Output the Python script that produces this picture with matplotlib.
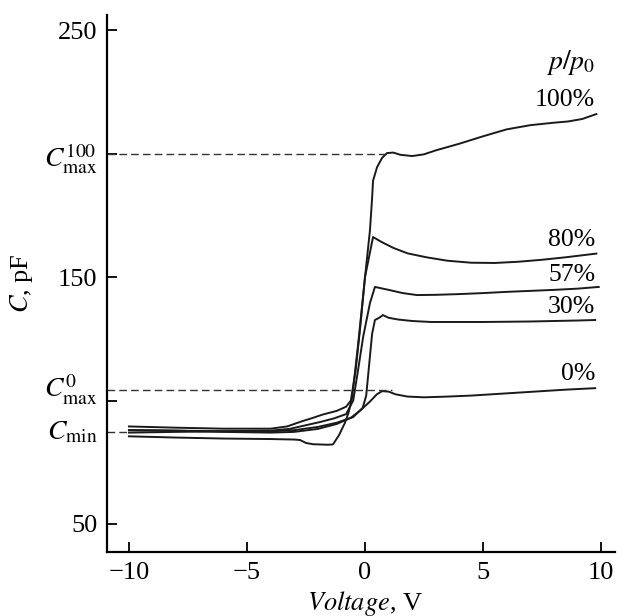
import matplotlib.pyplot as plt
import numpy as np

plt.rcParams['font.family'] = ['Liberation Serif', 'DejaVu Serif']
plt.rcParams['mathtext.fontset'] = 'stix'

# C-V curves at different relative humidity p/p0
v_100 = [-10, -8, -6, -4, -3, -2.75, -2.5, -2.2, -1.6, -1.36, -1.1, -0.85, -0.7, -0.55,
         -0.3, 0, 0.21, 0.3, 0.34, 0.51, 0.72, 0.93, 1.2, 1.5, 2.0, 2.5, 3.0, 4.0,
         5.0, 6.0, 7.0, 8.0, 8.6, 9.2, 9.8]
c_100 = [85.5, 85, 84.6, 84.4, 84.2, 84, 82.8, 82.3, 82.1, 82.2, 86, 91, 95, 101,
         122, 150, 169, 182, 189, 194.5, 198.2, 200.2, 200.4, 199.5, 199, 199.7, 201.3, 204,
         207, 209.8, 211.5, 212.5, 213, 214, 216]

v_80 = [-10, -8, -6, -4, -3.3, -2.7, -2.2, -1.8, -1.2, -0.8, -0.6, -0.4, -0.2, 0,
        0.34, 0.7, 1.2, 1.8, 2.6, 3.5, 4.5, 5.5, 6.5, 7.5, 8.5, 9.8]
c_80 = [89.5, 89, 88.6, 88.6, 89.5, 91.5, 93, 94.3, 95.8, 97.5, 100, 112, 130, 150,
        166.2, 164.2, 161.8, 159.6, 158, 156.6, 155.8, 155.7, 156.2, 157, 158, 159.5]

v_57 = [-10, -8, -6, -4, -3.2, -2.5, -1.9, -1.3, -0.8, -0.5, -0.3, -0.08, 0.21, 0.42,
        1.0, 1.6, 2.2, 3, 4, 5, 6, 7, 8, 9, 9.9]
c_57 = [88, 87.8, 87.6, 87.8, 88.5, 90, 91.3, 92.8, 94.5, 100, 112, 125.7, 139.5, 146,
        144.8, 143.5, 142.7, 142.8, 143.1, 143.5, 144, 144.4, 144.8, 145.3, 146]

v_30 = [-10, -8, -6, -4, -3, -2, -1.2, -0.5, -0.1, 0.05, 0.15, 0.3, 0.42, 0.6,
        0.76, 1.0, 1.4, 2.0, 2.8, 4, 5, 6, 7, 8, 9, 9.75]
c_30 = [87, 87.3, 87.5, 87.5, 88, 89.3, 91, 93.3, 97, 102, 112, 127, 132.6, 133.5,
        134.6, 133.5, 132.8, 132.2, 131.8, 131.8, 131.8, 131.9, 132, 132.2, 132.4, 132.6]

v_0 = [-10, -8, -6, -4, -3, -2, -1.2, -0.6, -0.2, 0.2, 0.5, 0.72, 1.0, 1.3,
       1.8, 2.5, 3.5, 4.5, 5.5, 6.5, 7.5, 8.5, 9.75]
c_0 = [88, 87.8, 87.3, 87, 87.3, 88.5, 90.5, 93, 96, 99.5, 102.5, 103.8, 103.6, 102.5,
       101.6, 101.3, 101.6, 102, 102.6, 103.2, 103.8, 104.4, 105]

curves = [(v_100, c_100), (v_80, c_80), (v_57, c_57), (v_30, c_30), (v_0, c_0)]
labels = ['100%', '80%', '57%', '30%', '0%']
label_y = [221.7, 165, 150.8, 138, 110.7]

c_max100 = 200
c_max0 = 104.3
c_min = 87.2

fig = plt.figure(figsize=(6.17, 6.16), dpi=100)
ax = fig.add_axes([0.1734, 0.1039, 0.8234, 0.8717])

for v, c in curves:
    ax.plot(v, c, color='#1a1a1a', lw=1.4, solid_joinstyle='round')

# reference levels
xl = -10.93
dash = (0, (5.5, 3))
ax.plot([xl, 1.0], [c_max100, c_max100], color='#333333', lw=1.0, ls=dash)
ax.plot([xl, 1.15], [c_max0, c_max0], color='#333333', lw=1.0, ls=dash)
ax.plot([xl, -10], [c_min, c_min], color='#333333', lw=1.0, ls=dash)

for lab, y in zip(labels, label_y):
    ax.text(9.75, y, lab, ha='right', va='center', fontsize=18.5)
ax.text(9.75, 237, r'$p/p_0$', ha='right', va='center', fontsize=20)

ax.set_xlim(xl, 10.59)
ax.set_ylim(38.66, 256.1)

ax.set_xticks([-10, -5, 0, 5, 10])
ax.set_xticklabels(['\u221210', '\u22125', '0', '5', '10'])
ax.set_yticks([50, 100, 150, 200, 250])
ax.set_yticklabels(['50', '', '150', r'$C_{\rm max}^{100}$', '250'])

ax.text(-11.35, c_max0, r'$C_{\rm max}^{0}$', ha='right', va='center', fontsize=20)
ax.text(-11.35, c_min, r'$C_{\rm min}$', ha='right', va='center', fontsize=20)

ax.tick_params(direction='in', length=7, width=1.3, labelsize=19, pad=7)
for lbl in ax.get_yticklabels():
    if 'max' in lbl.get_text():
        lbl.set_fontsize(20)

ax.spines['top'].set_visible(False)
ax.spines['right'].set_visible(False)
ax.spines['left'].set_linewidth(1.6)
ax.spines['bottom'].set_linewidth(1.6)

ax.set_xlabel(r'$\mathit{Voltage}$, V', fontsize=19)
ax.set_ylabel(r'$C$, pF', fontsize=19)
ax.xaxis.set_label_coords(0.508, -0.068)
ax.yaxis.set_label_coords(-0.142, 0.5)

fig.savefig('out.png', dpi=100)
